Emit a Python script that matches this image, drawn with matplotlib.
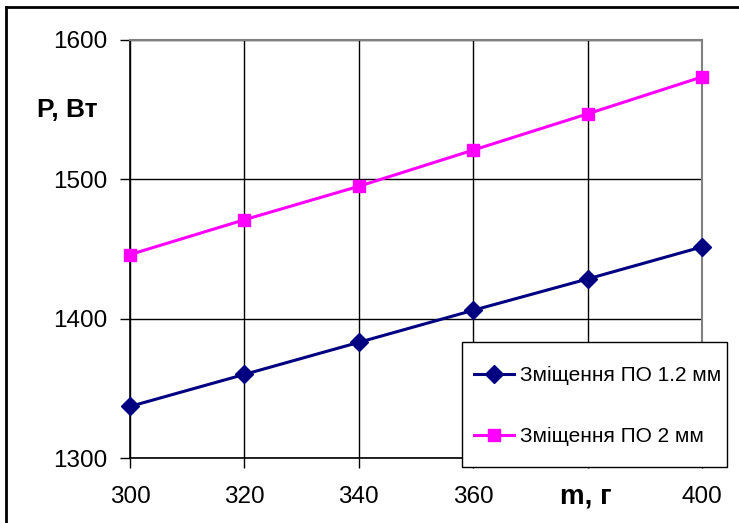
import matplotlib.pyplot as plt
from matplotlib.lines import Line2D
from matplotlib.patches import Rectangle

plt.rcParams['font.family'] = ['Liberation Sans', 'DejaVu Sans']

# data
mass = [300, 320, 340, 360, 380, 400]
power_12 = [1337, 1360, 1383, 1406, 1428.5, 1451.5]
power_2 = [1446, 1471, 1495, 1521, 1547, 1573.5]
labels = ['Зміщення ПО 1.2 мм', 'Зміщення ПО 2 мм']
x_ticks = [300, 320, 340, 360, 380, 400]
y_ticks = [1300, 1400, 1500, 1600]

fig = plt.figure(figsize=(7.39, 5.23), dpi=100)
ax = fig.add_axes([130 / 739, 1 - 458 / 523, 572 / 739, 418 / 523])

ax.plot(mass, power_12, color='#000080', marker='D', markersize=9, linewidth=2.2,
        label=labels[0], clip_on=False, zorder=5)
ax.plot(mass, power_2, color='#FF00FF', marker='s', markersize=9, linewidth=2.2,
        label=labels[1], clip_on=False, zorder=5)

ax.set_xlim(300, 400)
ax.set_ylim(1300, 1600)
ax.set_xticks(x_ticks)
ax.set_xticklabels(['300', '320', '340', '360', '', '400'])
ax.set_yticks(y_ticks)
ax.tick_params(labelsize=17.5, length=7, width=1, direction='out')
ax.tick_params(axis='y', pad=9)
ax.tick_params(axis='x', pad=13)
ax.grid(True, color='black', linewidth=1)
for side in ['top', 'right']:
    ax.spines[side].set_color('#808080')
    ax.spines[side].set_linewidth(1.5)
for side in ['left', 'bottom']:
    ax.spines[side].set_linewidth(1.2)

fig.text(37 / 739, 1 - 110 / 523, 'P, Вт', fontsize=19, fontweight='bold', va='center', ha='left')
fig.text(586 / 739, 1 - 496 / 523, 'm, г', fontsize=20, fontweight='bold', va='center', ha='center')

# legend frame drawn separately so the padding can match the original
frame = Rectangle((462 / 739, 1 - 467 / 523), 265 / 739, 125 / 523, transform=fig.transFigure,
                  facecolor='white', edgecolor='black', linewidth=1, zorder=9, clip_on=False)
ax.add_patch(frame)
leg = ax.legend(loc='center left', bbox_to_anchor=(474 / 739, 1 - 406 / 523),
                bbox_transform=fig.transFigure, fontsize=15, frameon=False,
                labelspacing=2.0, handlelength=1.9, handletextpad=0.3,
                borderpad=0, borderaxespad=0)
leg.set_zorder(10)

# outer border of the chart area
fig.add_artist(Line2D([6 / 739, 1], [1 - 7 / 523, 1 - 7 / 523], color='black', linewidth=2, transform=fig.transFigure))
fig.add_artist(Line2D([6 / 739, 6 / 739], [0, 1 - 7 / 523], color='black', linewidth=2, transform=fig.transFigure))

fig.savefig('out.png', dpi=100)
